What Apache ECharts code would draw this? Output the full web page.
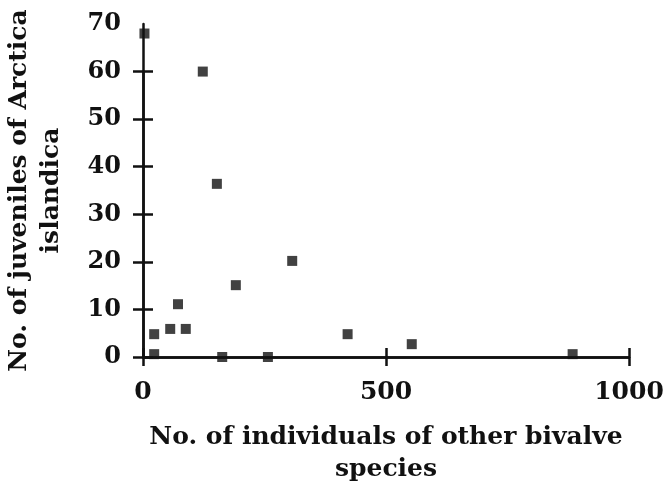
<!DOCTYPE html>
<html style="height: 100%">

<head>
    <meta charset="utf-8">
    <script src="https://cdn.jsdelivr.net/npm/echarts@6/dist/echarts.min.js"></script>
</head>

<body style="height: 100%; margin: 0; background: #fff">
    <div id="chart" style="width: 668px; height: 484px"></div>
    <script type="text/javascript">
        // bivalve counts (x) vs juvenile Arctica islandica (y)
        var otherBivalves = [3, 123, 152, 307, 191, 72, 23, 56, 88, 421, 553, 884, 23, 163, 257];
        var juveniles = [68, 60, 36.4, 20.2, 15.1, 11.1, 4.8, 5.9, 5.9, 4.8, 2.7, 0.6, 0.6, 0, 0];
        var yTicks = [0, 10, 20, 30, 40, 50, 60];
        var xTicks = [0, 500, 1000];

        var points = otherBivalves.map(function (x, i) {
            return [x, juveniles[i]];
        });

        var font = 'DejaVu Serif';
        var ink = '#111';
        var tickStyle = { color: ink, width: 2.5 };

        // second grid only carries the inner half of the crossing ticks (0..60, none at 70)
        var top0 = 24, bottom0 = 127;
        var plotH = 484 - top0 - bottom0;
        var top1 = top0 + plotH * (70 - 60) / 70;

        var myChart = echarts.init(document.getElementById('chart'));
        myChart.setOption({
            animation: false,
            grid: [
                { left: 143, right: 39, top: top0, bottom: bottom0, outerBoundsMode: 'none' },
                { left: 143, right: 39, top: top1, bottom: bottom0, outerBoundsMode: 'none' }
            ],
            xAxis: [{
                type: 'value',
                min: 0,
                max: 1000,
                interval: 500,
                name: 'No. of individuals of other bivalve\nspecies',
                nameLocation: 'middle',
                nameGap: 64,
                nameTextStyle: {
                    fontFamily: font, fontWeight: 'bold', fontSize: 25,
                    lineHeight: 32, color: ink
                },
                splitLine: { show: false },
                axisLine: { lineStyle: tickStyle },
                axisTick: { length: 9, lineStyle: tickStyle, customValues: xTicks },
                axisLabel: {
                    fontFamily: font, fontWeight: 'bold', fontSize: 25,
                    color: ink, margin: 23,
                    formatter: function (v) { return String(v); }
                }
            }, {
                gridIndex: 1,
                type: 'value',
                min: 0,
                max: 1000,
                interval: 500,
                splitLine: { show: false },
                // drawn on top of the main axis line, same place
                axisLine: { show: true, onZero: false, lineStyle: { color: ink, width: 2.5 } },
                axisLabel: { show: false },
                axisTick: { show: true, inside: true, length: 9, lineStyle: { color: ink, width: 2.5 } }
            }],
            yAxis: [{
                type: 'value',
                min: 0,
                max: 70,
                interval: 10,
                name: 'No. of juveniles of Arctica\nislandica',
                nameLocation: 'middle',
                nameRotate: 90,
                nameGap: 76,
                nameTextStyle: {
                    fontFamily: font, fontWeight: 'bold', fontSize: 25,
                    lineHeight: 32, color: ink
                },
                splitLine: { show: false },
                axisLine: { lineStyle: tickStyle },
                axisTick: { length: 10, lineStyle: tickStyle, customValues: yTicks },
                axisLabel: {
                    fontFamily: font, fontWeight: 'bold', fontSize: 24,
                    color: ink, margin: 22
                }
            }, {
                gridIndex: 1,
                type: 'value',
                min: 0,
                max: 60,
                interval: 10,
                splitLine: { show: false },
                axisLine: { show: true, onZero: false, lineStyle: { color: ink, width: 2.5 } },
                axisLabel: { show: false },
                axisTick: { show: true, inside: true, length: 10, lineStyle: { color: ink, width: 2.5 } }
            }],
            series: [{
                type: 'scatter',
                symbol: 'rect',
                symbolSize: 10,
                itemStyle: { color: ink },
                data: points
            }, {
                // invisible, keeps the tick-only axes from being blank
                type: 'scatter',
                xAxisIndex: 1,
                yAxisIndex: 1,
                symbolSize: 0,
                silent: true,
                itemStyle: { opacity: 0 },
                data: [[0, 0]]
            }]
        });
    </script>
</body>

</html>
